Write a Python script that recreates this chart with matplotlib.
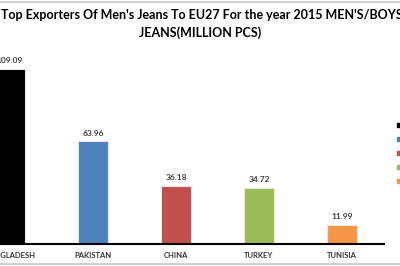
import matplotlib
matplotlib.use('Agg')
import matplotlib.pyplot as plt
from matplotlib.patches import Rectangle
from matplotlib.lines import Line2D

# data
countries = ['BANGLADESH', 'PAKISTAN', 'CHINA', 'TURKEY', 'TUNISIA']
values = [109.09, 63.96, 36.18, 34.72, 11.99]
colors = ['#000000', '#4F81BD', '#C0504D', '#9BBB59', '#F79646']

plt.rcParams['font.family'] = ['Lato', 'DejaVu Sans']

fig = plt.figure(figsize=(4, 2.66), dpi=100)
ax = fig.add_axes([0.0, 0.0827, 0.96, 0.7237])

x = list(range(len(countries)))
ax.bar(x, values, width=0.36, color=colors, edgecolor='#e6e6e6', linewidth=0.8)
for xi, v in zip(x, values):
    ax.text(xi, v + 3, f'{v:.2f}', ha='center', va='bottom', fontsize=6,
            fontweight='bold', color='#404040')

ax.set_xlim(-0.12, 4.506)
ax.set_ylim(0, 120)
ax.set_xticks(x)
ax.set_xticklabels(countries, fontsize=5.5, fontweight='bold', color='#333333')
ax.tick_params(axis='x', length=0, pad=6)
ax.set_yticks([])
for s in ['top', 'right', 'left']:
    ax.spines[s].set_visible(False)
ax.spines['bottom'].set_linewidth(1.5)
ax.spines['bottom'].set_color('black')

fig.text(0.505, 1 - 15 / 266, "Top Exporters Of Men's Jeans To EU27 For the year 2015 MEN'S/BOYS",
         ha='center', va='center', fontsize=9.0, fontweight='bold')
fig.text(0.5, 1 - 33 / 266, "JEANS(MILLION PCS)",
         ha='center', va='center', fontsize=9.0, fontweight='bold')

# frame lines at top and bottom
fig.add_artist(Line2D([0, 1], [1 - 2 / 266, 1 - 2 / 266], color='#c8c8c8', lw=1.2))
fig.add_artist(Line2D([0, 1], [2 / 266, 2 / 266], color='#c8c8c8', lw=1.2))

# legend markers cut off at right edge
for i, c in enumerate(colors):
    yp = 125 + 14 * i
    fig.add_artist(Rectangle((397 / 400, 1 - (yp + 2) / 266), 4 / 400, 4 / 266,
                             transform=fig.transFigure, color=c))

fig.savefig('out.png', dpi=100)
